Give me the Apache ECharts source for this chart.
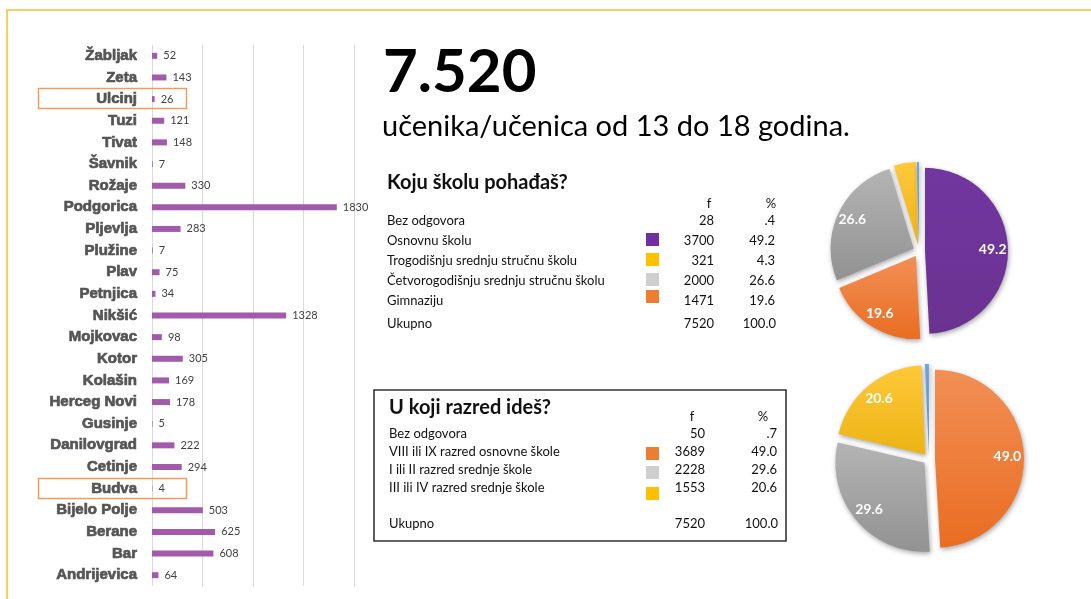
<!DOCTYPE html>
<html><head><meta charset="utf-8">
<script src="https://cdn.jsdelivr.net/npm/echarts@6/dist/echarts.min.js"></script>
<style>html,body{margin:0;padding:0;background:#fff}#c{width:1091px;height:599px}</style>
</head><body><div id="c"></div>
<script>
// ---- data ----
const municipalities = ['Žabljak','Zeta','Ulcinj','Tuzi','Tivat','Šavnik','Rožaje','Podgorica','Pljevlja','Plužine','Plav','Petnjica','Nikšić','Mojkovac','Kotor','Kolašin','Herceg Novi','Gusinje','Danilovgrad','Cetinje','Budva','Bijelo Polje','Berane','Bar','Andrijevica'];
const students = [52,143,26,121,148,7,330,1830,283,7,75,34,1328,98,305,169,178,5,222,294,4,503,625,608,64];
const highlighted = ['Ulcinj','Budva'];
const axisTicks = [0,500,1000,1500,2000];

const totalStudents = '7.520';
const subtitle = 'učenika/učenica od 13 do 18 godina.';

const schoolTitle = 'Koju školu pohađaš?';
const schoolLabels = ['Bez odgovora','Osnovnu školu','Trogodišnju srednju stručnu školu','Četvorogodišnju srednju stručnu školu','Gimnaziju'];
const schoolF = [28,3700,321,2000,1471];
const schoolPct = ['.4','49.2','4.3','26.6','19.6'];
const schoolPieOrder = [1,4,3,2,0];

const gradeTitle = 'U koji razred ideš?';
const gradeLabels = ['Bez odgovora','VIII ili IX razred osnovne škole','I ili II razred srednje škole','III ili IV razred srednje škole'];
const gradeF = [50,3689,2228,1553];
const gradePct = ['.7','49.0','29.6','20.6'];
const gradePieOrder = [1,2,3,0];

const totalLabel = 'Ukupno';
const totalF = 7520;
const totalPct = '100.0';

// ---- styling ----
const C = {
  purple:['#7236A0','#6A3290'], orange:['#F28F55','#E96D22'], grey:['#B4B4B4','#929292'],
  yellow:['#FFC83A','#EBB414'], blue:['#6FA6DA','#4F8DC8']
};
const schoolColors = [C.blue, C.purple, C.yellow, C.grey, C.orange];
const schoolSwatch = [null,'#7030A0','#FFC000','#CFCFCF','#ED7D31'];
const gradeColors = [C.blue, C.orange, C.grey, C.yellow];
const gradeSwatch = [null,'#ED7D31','#CFCFCF','#FFC000'];
const TF = 'Lato, "Open Sans", sans-serif';

function grad(c){return {type:'linear',x:0,y:0,x2:0,y2:1,colorStops:[{offset:0,color:c[0]},{offset:1,color:c[1]}]};}

function pieData(order, labels, pct, colors, forLabels){
  return order.map(i => ({
    name: labels[i], value: parseFloat(pct[i]), selected: true,
    itemStyle: forLabels ? {color:'rgba(0,0,0,0)'} : {color: grad(colors[i])},
    label: {show: forLabels && parseFloat(pct[i]) > 10}
  }));
}
function pieSeries(center, r, order, labels, pct, colors){
  const base = {type:'pie', center, startAngle:90, clockwise:true, selectedMode:'multiple', selectedOffset:6,
    animation:false, silent:true, emphasis:{disabled:true}, labelLine:{show:false}};
  return [
    Object.assign({}, base, {radius:[0,r], data: pieData(order,labels,pct,colors,false),
      itemStyle:{shadowBlur:5, shadowColor:'rgba(0,0,0,0.35)', shadowOffsetX:1, shadowOffsetY:2},
      label:{show:false}}),
    Object.assign({}, base, {radius:[r*0.56,r], z:5, data: pieData(order,labels,pct,colors,true),
      label:{position:'inside', formatter: p => pct[labels.indexOf(p.name)], color:'#fff', fontSize:14, fontWeight:'bold', fontFamily:TF}})
  ];
}

function txt(x,y,text,font,align,color){
  return {type:'text', x, y, silent:true, z:10, style:{text, font, fill: color || '#111', align: align||'left', verticalAlign:'middle'}};
}
function tableGraphics(o){
  const g = [];
  g.push(txt(o.x, o.titleY, o.title, 'bold 20px '+TF));
  g.push(txt(o.fX, o.headY, 'f', '13px '+TF, 'center'));
  g.push(txt(o.pX, o.headY, '%', '13px '+TF, 'center'));
  o.labels.forEach((l,i) => {
    const y = o.rowY[i];
    g.push(txt(o.x, y, l, '13px '+TF));
    g.push(txt(o.fR, y, String(o.f[i]), '13px '+TF, 'right'));
    g.push(txt(o.pR, y, o.pct[i], '13px '+TF, 'right'));
    if (o.sw[i]) g.push({type:'rect', silent:true, shape:{x:646, y:o.swY[i], width:13, height:13}, style:{fill:o.sw[i]}});
  });
  g.push(txt(o.x, o.totY, totalLabel, '13px '+TF));
  g.push(txt(o.fR, o.totY, String(totalF), '13px '+TF, 'right'));
  g.push(txt(o.pR+1, o.totY, totalPct, '13px '+TF, 'right'));
  return g;
}

const chart = echarts.init(document.getElementById('c'), null, {renderer:'canvas'});

const graphics = [
  {type:'line', silent:true, shape:{x1:6, y1:10, x2:1091, y2:10}, style:{stroke:'#F6D060', lineWidth:2}},
  {type:'line', silent:true, shape:{x1:7, y1:10, x2:7, y2:599}, style:{stroke:'#F6D060', lineWidth:2}},
  txt(383, 73, totalStudents, 'bold 60px '+TF, 'left', '#000'),
  txt(382, 127, subtitle, '29px '+TF, 'left', '#000'),
  {type:'rect', silent:true, shape:{x:374, y:390, width:412, height:151}, style:{fill:'none', stroke:'#333', lineWidth:1.6}}
].concat(
  tableGraphics({x:387, titleY:183, title:schoolTitle, headY:204, fX:709, pX:771, fR:714, pR:775,
    labels:schoolLabels, f:schoolF, pct:schoolPct, rowY:[221,241,261,281,301], swY:[0,233,253,273,290], sw:schoolSwatch,
    totY:324}),
  tableGraphics({x:389, titleY:408, title:gradeTitle, headY:417, fX:692, pX:763, fR:705, pR:777,
    labels:gradeLabels, f:gradeF, pct:gradePct, rowY:[434,452,470,488], swY:[0,447,466,487], sw:gradeSwatch,
    totY:524})
);

const option = {
  animation:false,
  grid:{left:152, top:45, width:202, height:541, containLabel:false},
  xAxis:{type:'value', min:axisTicks[0], max:axisTicks[axisTicks.length-1], interval:axisTicks[1]-axisTicks[0],
    axisLabel:{show:false}, axisLine:{show:false}, axisTick:{show:false},
    splitLine:{show:true, lineStyle:{color:'#D9D9D9', width:1}}},
  yAxis:{type:'category', data:municipalities, inverse:true,
    axisLine:{show:false}, axisTick:{show:false},
    axisLabel:{margin:15, fontFamily:'"Liberation Sans", Arial, sans-serif', fontWeight:'bold', fontSize:15, color:'#555555',
      textBorderColor:'#555555', textBorderWidth:0.7}},
  series:[
    {type:'bar', data:students, barWidth:6, itemStyle:{color:'#A15BAA'}, silent:true,
     label:{show:true, position:'right', distance:6, fontSize:11, fontFamily:TF, color:'#404040'}}
  ].concat(
    pieSeries([919,251], 83, schoolPieOrder, schoolLabels, schoolPct, schoolColors),
    pieSeries([929,459], 89, gradePieOrder, gradeLabels, gradePct, gradeColors)
  ),
  graphic: graphics
};
chart.setOption(option);

// highlight boxes placed on the category rows through the axis scale
const boxes = highlighted.map(name => {
  const y = chart.convertToPixel({yAxisIndex:0}, name);
  return {type:'rect', silent:true, z:10, shape:{x:38.5, y:Math.round(y)-10.5, width:148, height:20},
    style:{fill:'none', stroke:'#F29B5C', lineWidth:1.5}};
});
chart.setOption({graphic: graphics.concat(boxes)});
</script></body></html>
